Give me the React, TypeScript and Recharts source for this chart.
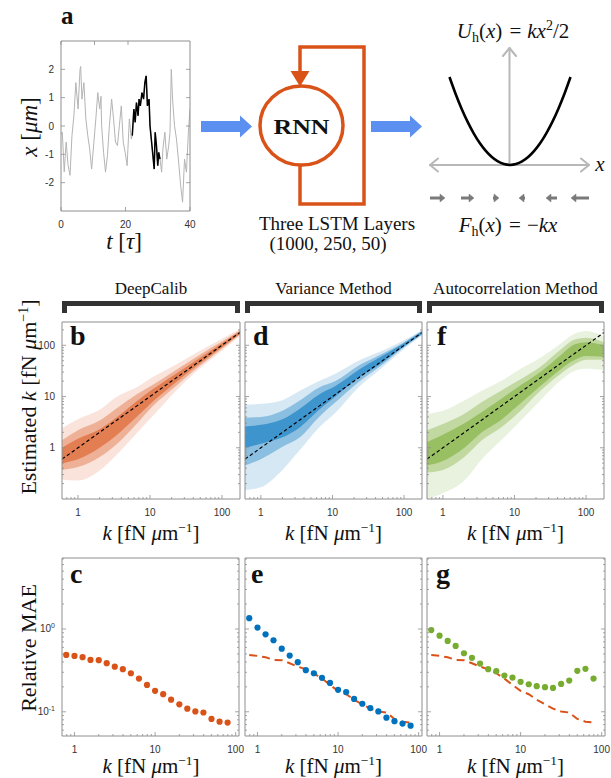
import React from 'react';
import { ComposedChart, LineChart, Line, Area, XAxis, YAxis } from 'recharts';

const ORANGE = '#D95319';
const BLUE = '#0072BD';
const GREEN = '#77AC30';
const ARROW_BLUE = '#5B8FF0';
const BOX = '#8e8e8e';
const TICK = '#8e8e8e';
const LABEL = '#333333';
const SERIF = '"Liberation Serif", "Times New Roman", serif';
const SANS = '"Liberation Sans", Arial, Helvetica, sans-serif';

// ---------------- Panel a: trajectory ----------------
const traceT = [0, 0.4, 1.0, 1.6, 2.2, 2.8, 3.4, 4.0, 4.6, 5.3, 5.9, 6.1, 6.5, 7.1, 7.7, 8.3, 8.9, 9.5, 10.2, 10.8, 11.4, 12.0, 12.4, 12.6, 13.2, 13.8, 14.4, 15.0, 15.7, 16.3, 16.9, 17.5, 18.1, 18.7, 19.3, 19.9, 20.5, 21.2, 21.8, 22.1, 22.6, 23.0, 23.4, 23.9, 24.2, 24.6, 25.1, 25.6, 26.0, 26.4, 26.8, 27.3, 27.6, 28.0, 28.5, 28.9, 29.2, 29.6, 30.0, 30.3, 30.7, 31.2, 31.6, 32.2, 32.8, 33.4, 33.8, 34.2, 34.6, 35.2, 35.8, 36.4, 37.1, 37.7, 38.3, 38.9, 39.5, 40];
const traceX = [-0.3, -0.22, -1.62, -0.57, -1.39, -1.74, -0.34, 0.36, 1.53, 0.6, 2.0, 2.1, 0.95, 1.53, 0.25, -0.34, -0.81, -1.52, -0.57, 0.25, 1.18, 0.6, 1.05, 0.01, -0.93, -1.63, -1.05, 0.01, 0.95, 0.25, -0.57, -0.69, 0.01, 0.71, -0.57, -0.93, -1.4, 0.25, -0.46, -0.34, 0.6, 0.13, 0.83, 0.36, 0.95, 0.71, 1.18, 0.95, 1.53, 1.77, 0.71, 0.95, 0.01, -0.46, -1.05, -1.52, -0.22, -0.69, -1.4, -0.93, -1.17, -1.63, -0.81, -0.22, -1.17, -0.69, -0.22, 2.0, 0.95, 0.01, -0.46, -1.17, -2.1, -2.69, -1.17, -1.63, -0.22, 0.6];
const HL_START = 22.1;
const HL_END = 30.7;
const traceTicksX = [0, 20, 40];
const traceTicksY = [-2, -1, 0, 1, 2];

// ---------------- Panel a: harmonic potential ----------------
const potX = [-1, -0.9, -0.8, -0.7, -0.6, -0.5, -0.4, -0.3, -0.2, -0.1, 0, 0.1, 0.2, 0.3, 0.4, 0.5, 0.6, 0.7, 0.8, 0.9, 1];
const potU = [1, 0.81, 0.64, 0.49, 0.36, 0.25, 0.16, 0.09, 0.04, 0.01, 0, 0.01, 0.04, 0.09, 0.16, 0.25, 0.36, 0.49, 0.64, 0.81, 1];

// ---------------- Panels b, d, f: estimated vs true k (density bands) ----------------
const kBand = [0.6, 1, 2, 3.5, 6.5, 11, 23, 43, 100, 178];
const calibOuterLo = [0.24, 0.23, 0.36, 0.75, 1.9, 4.2, 13, 30, 78, 150];
const calibOuterHi = [2.4, 3.6, 5.5, 10, 15, 24, 42, 70, 135, 205];
const calibDenseLo = [0.37, 0.42, 0.66, 1.2, 2.9, 6.5, 16, 34, 86, 160];
const calibDenseHi = [1.4, 2.2, 3.4, 6, 11, 17, 33, 58, 118, 195];
const calibCoreLo = [0.5, 0.6, 1.0, 1.8, 4.0, 8, 19, 38, 92, 166];
const calibCoreHi = [1.0, 1.5, 2.3, 4.0, 8, 14, 28, 50, 110, 188];

const varOuterLo = [0.15, 0.17, 0.37, 0.9, 2.5, 4.8, 15, 31, 85, 155];
const varOuterHi = [7, 7.2, 8.5, 13, 20, 28, 50, 72, 125, 200];
const varDenseLo = [0.45, 0.6, 1.05, 1.6, 4, 7.7, 19, 36, 92, 162];
const varDenseHi = [3.9, 4, 5.3, 8.4, 15, 20, 40, 62, 115, 192];
const varCoreLo = [1.0, 1.2, 1.6, 2.5, 5.5, 10, 23, 40, 96, 166];
const varCoreHi = [2.6, 2.8, 3.6, 5.8, 11, 16, 33, 55, 110, 186];

const kBandF = [0.6, 1, 2, 3.5, 6.5, 11, 23, 43, 70, 100, 178];
const acOuterLo = [0.1, 0.13, 0.23, 0.6, 1.4, 2.9, 8.4, 20, 32, 35, 33];
const acOuterHi = [4.6, 5.3, 8.4, 13, 20, 32, 57, 105, 170, 190, 150];
const acDenseLo = [0.33, 0.37, 0.66, 1.4, 2.5, 4.6, 13, 27, 43, 52, 52];
const acDenseHi = [2.2, 2.9, 4.6, 7.8, 13, 20, 38, 80, 130, 140, 115];
const acCoreLo = [0.45, 0.55, 1.0, 2.0, 3.5, 6.5, 16, 33, 52, 62, 60];
const acCoreHi = [1.3, 1.8, 3.0, 5.0, 9, 15, 30, 62, 105, 115, 100];

const topXTicks = [0.7, 0.8, 0.9, 1, 2, 3, 4, 5, 6, 7, 8, 9, 10, 20, 30, 40, 50, 60, 70, 80, 90, 100];
const topYTicks = [0.2, 0.3, 0.4, 0.5, 0.6, 0.7, 0.8, 0.9, 1, 2, 3, 4, 5, 6, 7, 8, 9, 10, 20, 30, 40, 50, 60, 70, 80, 90, 100, 200];

// ---------------- Panels c, e, g: relative MAE ----------------
const kMAE = [0.79, 1.0, 1.26, 1.58, 2.0, 2.51, 3.16, 3.98, 5.01, 6.31, 7.94, 10, 12.6, 15.8, 20, 25.1, 31.6, 39.8, 50.1, 63.1, 79.4];
const deepCalibMAE = [0.486, 0.473, 0.456, 0.423, 0.42, 0.386, 0.351, 0.327, 0.292, 0.252, 0.211, 0.179, 0.163, 0.14, 0.123, 0.109, 0.101, 0.098, 0.082, 0.076, 0.074];
const varianceMAE = [1.35, 1.04, 0.863, 0.731, 0.579, 0.477, 0.397, 0.318, 0.292, 0.257, 0.223, 0.184, 0.173, 0.143, 0.125, 0.111, 0.101, 0.085, 0.077, 0.072, 0.068];
const autocorrMAE = [0.97, 0.83, 0.717, 0.624, 0.509, 0.448, 0.382, 0.327, 0.309, 0.274, 0.259, 0.23, 0.215, 0.204, 0.198, 0.194, 0.217, 0.238, 0.312, 0.33, 0.252];

const botXTicks = [0.8, 0.9, 1, 2, 3, 4, 5, 6, 7, 8, 9, 10, 20, 30, 40, 50, 60, 70, 80, 90, 100];
const botYTicks = [0.06, 0.07, 0.08, 0.09, 0.1, 0.2, 0.3, 0.4, 0.5, 0.6, 0.7, 0.8, 0.9, 1, 2, 3, 4, 5, 6, 7];

// ---------------- rows built from the arrays ----------------
const traceRows = traceT.map((t, i) => ({ t, g: traceX[i], b: t >= HL_START && t <= HL_END ? traceX[i] : null }));
const potRows = potX.map((x, i) => ({ x, u: potU[i] }));
const bandRows = (k: number[], oL: number[], oH: number[], dL: number[], dH: number[], cL: number[], cH: number[]) =>
  k.map((kk, i) => ({ k: kk, o: [oL[i], oH[i]], d: [dL[i], dH[i]], c: [cL[i], cH[i]], diag: kk }));
const rowsB = bandRows(kBand, calibOuterLo, calibOuterHi, calibDenseLo, calibDenseHi, calibCoreLo, calibCoreHi);
const rowsD = bandRows(kBand, varOuterLo, varOuterHi, varDenseLo, varDenseHi, varCoreLo, varCoreHi);
const rowsF = bandRows(kBandF, acOuterLo, acOuterHi, acDenseLo, acDenseHi, acCoreLo, acCoreHi);
const maeRows = kMAE.map((k, i) => ({ k, dc: deepCalibMAE[i], vm: varianceMAE[i], ac: autocorrMAE[i] }));

// ---------------- layout ----------------
type Box = { x: number; y: number; w: number; h: number };
const boxTrace: Box = { x: 61, y: 41, w: 129, h: 170 };
const boxB: Box = { x: 62, y: 322, w: 178, h: 177 };
const boxD: Box = { x: 245, y: 322, w: 177, h: 177 };
const boxF: Box = { x: 427, y: 322, w: 177, h: 177 };
const boxC: Box = { x: 62, y: 558, w: 177, h: 178 };
const boxE: Box = { x: 245, y: 558, w: 177, h: 178 };
const boxG: Box = { x: 427, y: 558, w: 178, h: 178 };
const ML = 40, MR = 16, MT = 4, MB = 26;
const AX = 1; // axis thickness reserved (must be > 0 for recharts to draw the axis)

const isDecade = (v: number) => Math.abs(Math.log10(v) - Math.round(Math.log10(v))) < 1e-6;
const always = () => true;

type LabelFn = ((v: number) => React.ReactNode | null) | null;

function tickFactory(side: 'bottom' | 'top' | 'left' | 'right', labelFn: LabelFn, majorFn: (v: number) => boolean, off: number) {
  return (props: any) => {
    const { x, y, payload } = props;
    const v = payload.value;
    const len = majorFn(v) ? 4 : 2;
    let line;
    if (side === 'bottom') line = <line x1={x} x2={x} y1={y} y2={y - len} stroke={TICK} strokeWidth={0.8} />;
    else if (side === 'top') line = <line x1={x} x2={x} y1={y} y2={y + len} stroke={TICK} strokeWidth={0.8} />;
    else if (side === 'left') line = <line x1={x} x2={x + len} y1={y} y2={y} stroke={TICK} strokeWidth={0.8} />;
    else line = <line x1={x} x2={x - len} y1={y} y2={y} stroke={TICK} strokeWidth={0.8} />;
    const lab = labelFn ? labelFn(v) : null;
    let text = null;
    if (lab !== null && lab !== undefined) {
      if (side === 'bottom')
        text = <text x={x} y={y + off} textAnchor="middle" fontSize={10} fontFamily={SANS} fill={LABEL}>{lab}</text>;
      else if (side === 'left')
        text = <text x={x - off} y={y + 3.5} textAnchor="end" fontSize={10} fontFamily={SANS} fill={LABEL}>{lab}</text>;
    }
    return <g>{line}{text}</g>;
  };
}

const decadeLabel = (v: number) => (isDecade(v) ? String(Math.round(v)) : null);
const decadeLabelAll = (v: number) => (isDecade(v) && v >= 1 ? String(Math.round(v)) : null);
const powLabel = (v: number) => {
  if (!isDecade(v)) return null;
  const n = Math.round(Math.log10(v));
  if (n > 0 || n < -1) return null;
  return (
    <>
      10<tspan dy={-4.5} fontSize={7}>{String(n)}</tspan>
    </>
  );
};
const numLabel = (v: number) => String(v);

function Frame(props: {
  box: Box; data: any[]; xKey: string;
  xDomain: [number, number]; yDomain: [number, number];
  xScale: 'log' | 'linear'; yScale: 'log' | 'linear';
  xTicks: number[]; yTicks: number[];
  xLabel: LabelFn; yLabel: LabelFn; xOff: number; yOff: number;
  children: React.ReactNode;
}) {
  const { box, data, xKey, xDomain, yDomain, xScale, yScale, xTicks, yTicks, xLabel, yLabel, xOff, yOff, children } = props;
  const xMajor = xScale === 'log' ? isDecade : always;
  const yMajor = yScale === 'log' ? isDecade : always;
  return (
    <div style={{ position: 'absolute', left: box.x - ML - AX, top: box.y - MT - AX }}>
      <ComposedChart width={box.w + ML + MR + 2 * AX} height={box.h + MT + MB + 2 * AX} data={data} margin={{ top: MT, right: MR, bottom: MB, left: ML }}>
        <XAxis dataKey={xKey} type="number" scale={xScale} domain={xDomain} allowDataOverflow ticks={xTicks} interval={0}
          tickLine={false} tickSize={0} tickMargin={0} height={AX} axisLine={{ stroke: BOX, strokeWidth: 1 }}
          tick={tickFactory('bottom', xLabel, xMajor, xOff)} />
        <XAxis xAxisId="top" orientation="top" type="number" scale={xScale} domain={xDomain} allowDataOverflow ticks={xTicks} interval={0}
          tickLine={false} tickSize={0} tickMargin={0} height={AX} axisLine={{ stroke: BOX, strokeWidth: 1 }}
          tick={tickFactory('top', null, xMajor, 0)} />
        <YAxis type="number" scale={yScale} domain={yDomain} allowDataOverflow ticks={yTicks} interval={0}
          tickLine={false} tickSize={0} tickMargin={0} width={AX} axisLine={{ stroke: BOX, strokeWidth: 1 }}
          tick={tickFactory('left', yLabel, yMajor, yOff)} />
        <YAxis yAxisId="right" orientation="right" type="number" scale={yScale} domain={yDomain} allowDataOverflow ticks={yTicks} interval={0}
          tickLine={false} tickSize={0} tickMargin={0} width={AX} axisLine={{ stroke: BOX, strokeWidth: 1 }}
          tick={tickFactory('right', null, yMajor, 0)} />
        {children}
      </ComposedChart>
    </div>
  );
}

function BandPanel({ box, rows, color, yLabels }: { box: Box; rows: any[]; color: string; yLabels: boolean }) {
  return (
    <Frame box={box} data={rows} xKey="k" xDomain={[0.6, 178]} yDomain={[0.1, 285]} xScale="log" yScale="log"
      xTicks={topXTicks} yTicks={topYTicks} xLabel={decadeLabelAll} yLabel={yLabels ? decadeLabel : null} xOff={17} yOff={7}>
      <Area dataKey="o" type="monotone" stroke="none" fill={color} fillOpacity={0.16} isAnimationActive={false} activeDot={false} />
      <Area dataKey="d" type="monotone" stroke="none" fill={color} fillOpacity={0.35} isAnimationActive={false} activeDot={false} />
      <Area dataKey="c" type="monotone" stroke="none" fill={color} fillOpacity={0.55} isAnimationActive={false} activeDot={false} />
      <Line dataKey="diag" type="linear" stroke="#000" strokeWidth={1.2} strokeDasharray="3.5 2.5" dot={false} activeDot={false} isAnimationActive={false} />
    </Frame>
  );
}

function MaePanel({ box, dotKey, color, withRef, yLabels }: { box: Box; dotKey: string; color: string; withRef: boolean; yLabels: boolean }) {
  return (
    <Frame box={box} data={maeRows} xKey="k" xDomain={[0.7, 110]} yDomain={[0.051, 7.2]} xScale="log" yScale="log"
      xTicks={botXTicks} yTicks={botYTicks} xLabel={decadeLabelAll} yLabel={yLabels ? powLabel : null} xOff={17} yOff={7}>
      {withRef ? (
        <Line dataKey="dc" type="linear" stroke={ORANGE} strokeWidth={2} strokeDasharray="8 5" dot={false} activeDot={false} isAnimationActive={false} />
      ) : null}
      <Line dataKey={dotKey} type="linear" stroke="none" strokeWidth={0} dot={{ r: 3.1, fill: color, stroke: 'none', strokeWidth: 0, fillOpacity: 1 }} activeDot={false} isAnimationActive={false} />
    </Frame>
  );
}

function TracePanel() {
  return (
    <Frame box={boxTrace} data={traceRows} xKey="t" xDomain={[0, 40]} yDomain={[-3, 3]} xScale="linear" yScale="linear"
      xTicks={traceTicksX} yTicks={traceTicksY} xLabel={numLabel} yLabel={numLabel} xOff={16.5} yOff={7}>
      <Line dataKey="g" type="linear" stroke="#b4b4b4" strokeWidth={1} dot={false} activeDot={false} isAnimationActive={false} />
      <Line dataKey="b" type="linear" stroke="#000" strokeWidth={1.5} dot={false} activeDot={false} isAnimationActive={false} connectNulls={false} />
    </Frame>
  );
}

function PotentialPanel() {
  // plot area: x 429.5..589.5, y 47..165
  const m = 5;
  return (
    <div style={{ position: 'absolute', left: 429.5 - m, top: 47 - m }}>
      <LineChart width={160 + 2 * m} height={118 + 2 * m} data={potRows} margin={{ top: m, right: m, bottom: m, left: m }}>
        <XAxis dataKey="x" type="number" domain={[-1.322, 1.322]} hide />
        <YAxis type="number" domain={[0, 1.341]} hide width={0} />
        <Line dataKey="u" type="monotone" stroke="#000" strokeWidth={2.6} dot={false} activeDot={false} isAnimationActive={false} />
      </LineChart>
    </div>
  );
}

const KUnit = ({ x, y, size }: { x: number; y: number; size: number }) => (
  <text x={x} y={y} textAnchor="middle" fontSize={size} fontFamily={SERIF} fill="#111">
    <tspan fontStyle="italic">k</tspan>
    {' [fN '}
    <tspan fontStyle="italic">μ</tspan>
    {'m'}
    <tspan dy={-size * 0.36} fontSize={size * 0.64}>−1</tspan>
    <tspan dy={size * 0.36}>]</tspan>
  </text>
);

function UnderLayer() {
  const brackets = [[62, 240], [245, 422], [427, 604]];
  const forceArrows = [[430, 445], [461, 474], [493, 499], [525, 519], [557, 546], [589, 571]];
  return (
    <svg width={611} height={778} style={{ position: 'absolute', left: 0, top: 0 }}>
      {brackets.map(([a, b], i) => (
        <path key={i} d={`M${a + 2.5},313 V303.5 H${b - 2.5} V313`} stroke="#333" strokeWidth={5} fill="none" />
      ))}
      {/* potential axes */}
      <g stroke="#b8b8b8" strokeWidth={2} fill="none" strokeLinecap="round" strokeLinejoin="round">
        <line x1={509.5} y1={165} x2={509.5} y2={48} />
        <polyline points="503,56 509.5,48 516,56" />
        <line x1={430} y1={165} x2={589} y2={165} />
        <polyline points="581,158.5 589,165 581,171.5" />
        <polyline points="438,158.5 430,165 438,171.5" />
      </g>
      {/* force arrows */}
      {forceArrows.map(([tail, tip], i) => {
        const dir = tip > tail ? 1 : -1;
        const headLen = Math.min(5, Math.abs(tip - tail));
        const base = tip - dir * headLen;
        return (
          <g key={i} fill="#7a7a7a" stroke="#7a7a7a">
            {Math.abs(base - tail) > 0.5 ? <line x1={tail} y1={198} x2={base} y2={198} strokeWidth={3} /> : null}
            <polygon points={`${base},${194} ${tip},${198} ${base},${202}`} strokeWidth={0.5} />
          </g>
        );
      })}
    </svg>
  );
}

function OverLayer() {
  const arrow = (x0: number, x1: number, x2: number) =>
    `${x0},121 ${x1},121 ${x1},115.5 ${x2},126.5 ${x1},137.5 ${x1},132 ${x0},132`;
  return (
    <svg width={611} height={778} style={{ position: 'absolute', left: 0, top: 0 }}>
      {/* panel a */}
      <text x={61} y={24} fontSize={25} fontWeight="bold" fontFamily={SERIF} fill="#111">a</text>
      <text x={30} y={134} transform="rotate(-90 30 127)" textAnchor="middle" fontSize={23} fontFamily={SERIF} fill="#111">
        <tspan fontStyle="italic">x</tspan>{' ['}<tspan fontStyle="italic">μm</tspan>{']'}
      </text>
      <text x={124} y={249} textAnchor="middle" fontSize={23} fontFamily={SERIF} fill="#111">
        <tspan fontStyle="italic">t</tspan>{' ['}<tspan fontStyle="italic">τ</tspan>{']'}
      </text>
      <polygon points={arrow(201, 240, 252)} fill={ARROW_BLUE} />
      <polygon points={arrow(371, 410, 422)} fill={ARROW_BLUE} />
      {/* RNN */}
      <path d="M300,165 L300,204 L364,204 L364,47 L300,47 L300,73" stroke={ORANGE} strokeWidth={3.5} fill="none" />
      <polygon points="290.5,71 309.5,71 300,86.5" fill={ORANGE} />
      <ellipse cx={301.5} cy={125.5} rx={41.5} ry={39.5} stroke={ORANGE} strokeWidth={3.5} fill="#fff" />
      <text x={301.5} y={133.5} textAnchor="middle" fontSize={22} fontWeight="bold" fontFamily={SERIF} fill="#111" textLength={56} lengthAdjust="spacingAndGlyphs">RNN</text>
      <text x={337} y={230} textAnchor="middle" fontSize={19} fontFamily={SERIF} fill="#111">Three LSTM Layers</text>
      <text x={328} y={250} textAnchor="middle" fontSize={19} fontFamily={SERIF} fill="#111">(1000, 250, 50)</text>
      {/* potential labels */}
      <text x={513} y={38} textAnchor="middle" fontSize={21} fontFamily={SERIF} fill="#111">
        <tspan fontStyle="italic">U</tspan>
        <tspan fontSize={14} dy={4}>h</tspan>
        <tspan dy={-4}>(</tspan>
        <tspan fontStyle="italic">x</tspan>
        {') '}
        <tspan dx={2}>=</tspan>
        <tspan dx={6} fontStyle="italic">kx</tspan>
        <tspan fontSize={14} dy={-8}>2</tspan>
        <tspan dy={8}>/2</tspan>
      </text>
      <text x={600} y={171} textAnchor="middle" fontSize={21} fontStyle="italic" fontFamily={SERIF} fill="#111">x</text>
      <text x={508} y={232} textAnchor="middle" fontSize={21} fontFamily={SERIF} fill="#111">
        <tspan fontStyle="italic">F</tspan>
        <tspan fontSize={14} dy={4}>h</tspan>
        <tspan dy={-4}>(</tspan>
        <tspan fontStyle="italic">x</tspan>
        {') '}
        <tspan dx={2}>=</tspan>
        <tspan dx={6}>−</tspan>
        <tspan fontStyle="italic">kx</tspan>
      </text>
      {/* headers */}
      <text x={151} y={294} textAnchor="middle" fontSize={17} fontFamily={SERIF} fill="#111">DeepCalib</text>
      <text x={333.5} y={294} textAnchor="middle" fontSize={17} fontFamily={SERIF} fill="#111">Variance Method</text>
      <text x={515.5} y={294} textAnchor="middle" fontSize={17} fontFamily={SERIF} fill="#111">Autocorrelation Method</text>
      {/* panel letters */}
      {[['b', 70, 345], ['d', 253, 345], ['f', 437, 345], ['c', 70, 583], ['e', 251, 583], ['g', 436, 583]].map(([l, x, y]) => (
        <text key={l as string} x={x as number} y={y as number} fontSize={28} fontWeight="bold" fontFamily={SERIF} fill="#111">{l}</text>
      ))}
      {/* axis labels */}
      <text x={29} y={404} transform="rotate(-90 29 397)" textAnchor="middle" fontSize={22} fontFamily={SERIF} fill="#111">
        {'Estimated '}
        <tspan fontStyle="italic">k</tspan>
        {' [fN '}
        <tspan fontStyle="italic">μ</tspan>
        {'m'}
        <tspan dy={-8} fontSize={14}>−1</tspan>
        <tspan dy={8}>]</tspan>
      </text>
      <text x={29} y={655} transform="rotate(-90 29 648)" textAnchor="middle" fontSize={22} fontFamily={SERIF} fill="#111">Relative MAE</text>
      <KUnit x={151} y={540} size={21} />
      <KUnit x={333.5} y={540} size={21} />
      <KUnit x={515.5} y={540} size={21} />
      <KUnit x={151} y={773} size={21} />
      <KUnit x={333.5} y={773} size={21} />
      <KUnit x={515.5} y={773} size={21} />
    </svg>
  );
}

export default function App() {
  return (
    <div style={{ position: 'absolute', left: 0, top: 0, width: 611, height: 778, background: '#fff', overflow: 'hidden' }}>
      <UnderLayer />
      <TracePanel />
      <PotentialPanel />
      <BandPanel box={boxB} rows={rowsB} color={ORANGE} yLabels />
      <BandPanel box={boxD} rows={rowsD} color={BLUE} yLabels={false} />
      <BandPanel box={boxF} rows={rowsF} color={GREEN} yLabels={false} />
      <MaePanel box={boxC} dotKey="dc" color={ORANGE} withRef={false} yLabels />
      <MaePanel box={boxE} dotKey="vm" color={BLUE} withRef yLabels={false} />
      <MaePanel box={boxG} dotKey="ac" color={GREEN} withRef yLabels={false} />
      <OverLayer />
    </div>
  );
}
